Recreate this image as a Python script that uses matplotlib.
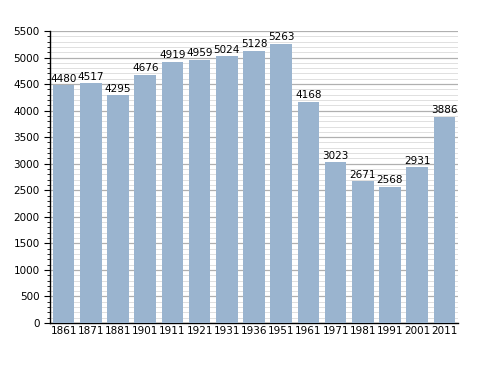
import numpy as np
import matplotlib
matplotlib.use("Agg")
import matplotlib.pyplot as plt
from matplotlib.ticker import MultipleLocator

years = ["1861", "1871", "1881", "1901", "1911", "1921", "1931", "1936",
         "1951", "1961", "1971", "1981", "1991", "2001", "2011"]
pop = [4480, 4517, 4295, 4676, 4919, 4959, 5024, 5128,
       5263, 4168, 3023, 2671, 2568, 2931, 3886]

fig = plt.figure(figsize=(4.88, 3.73), dpi=100)
ax = fig.add_axes([0.1025, 0.134, 0.836, 0.783])

x = np.arange(len(years))
ax.bar(x, pop, width=0.8, color="#9ab4cf", zorder=3)
for xi, v in zip(x, pop):
    ax.text(xi, v + 25, str(v), ha="center", va="bottom", fontsize=7.5, zorder=4)

ax.set_xlim(-0.5, len(years) - 0.5)
ax.set_ylim(0, 5500)
ax.yaxis.set_major_locator(MultipleLocator(500))
ax.yaxis.set_minor_locator(MultipleLocator(100))
ax.grid(which="major", axis="y", color="#b0b0b0", linewidth=0.9, zorder=0)
ax.grid(which="minor", axis="y", color="#e0e0e0", linewidth=0.7, zorder=0)
ax.set_xticks(x)
ax.set_xticklabels(years)
ax.tick_params(axis="x", length=0, labelsize=7.5, pad=2)
ax.tick_params(axis="y", which="major", length=4, labelsize=7.5, direction="out")
ax.tick_params(axis="y", which="minor", length=2, direction="out")
for s in ["top", "right"]:
    ax.spines[s].set_visible(False)
ax.spines["left"].set_linewidth(1.0)
ax.spines["bottom"].set_linewidth(1.0)

fig.savefig("out.png", dpi=100)
